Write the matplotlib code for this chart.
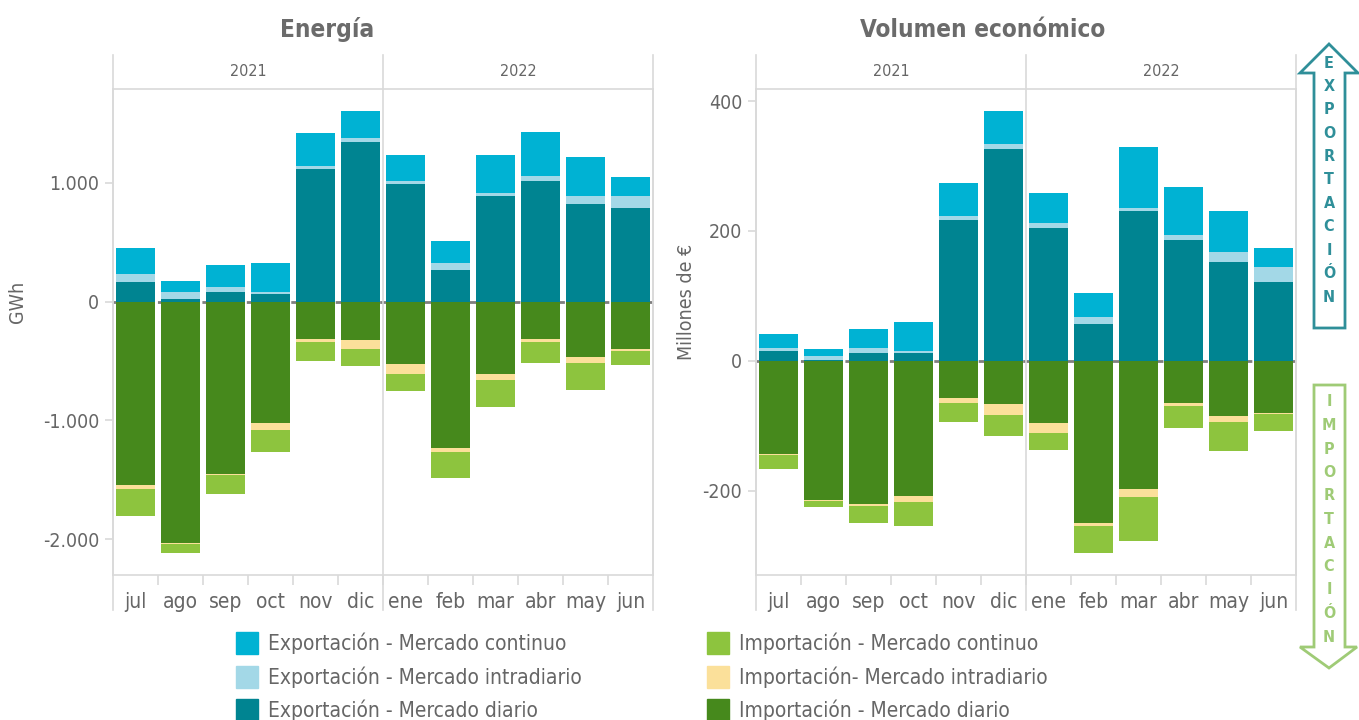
import numpy as np
import matplotlib.pyplot as plt
from matplotlib.lines import Line2D
from matplotlib.patches import Polygon, Rectangle

W, H = 1359, 720
plt.rcParams['font.family'] = ['DejaVu Sans']
plt.rcParams['font.stretch'] = 'condensed'

months = ['jul', 'ago', 'sep', 'oct', 'nov', 'dic', 'ene', 'feb', 'mar', 'abr', 'may', 'jun']
years = ['2021', '2022']

# Energía (GWh)
exp_diario_e = [166, 23, 82, 65, 1117, 1345, 990, 267, 890, 1015, 822, 788]
exp_intra_e = [67, 59, 42, 17, 26, 34, 25, 59, 25, 42, 68, 102]
exp_cont_e = [219, 92, 185, 244, 277, 227, 219, 185, 319, 370, 328, 159]
imp_diario_e = [-1544, -2031, -1448, -1021, -314, -322, -524, -1231, -608, -314, -465, -398]
imp_intra_e = [-33, -9, -11, -59, -25, -76, -84, -34, -51, -25, -51, -17]
imp_cont_e = [-227, -76, -160, -185, -160, -143, -143, -219, -227, -177, -227, -118]

# Volumen económico (millones de €)
exp_diario_v = [15, 1, 12, 12, 217, 326, 205, 57, 231, 186, 152, 121]
exp_intra_v = [4.6, 6, 7.7, 3, 6, 8, 7.7, 10.7, 4.6, 7.7, 15, 23]
exp_cont_v = [21.6, 11, 29, 45, 51, 51, 45, 37, 94, 74, 63, 29]
imp_diario_v = [-144, -215, -221, -208, -57, -67, -96, -250, -198, -65, -85, -81]
imp_intra_v = [-1.5, -0.5, -3, -9, -8, -17, -15, -4.6, -12, -4.6, -9, -0.5]
imp_cont_v = [-21.6, -9, -26, -37, -29, -32, -26, -41, -68, -34, -45, -26]

C_EXP_CONT, C_EXP_INTRA, C_EXP_DIA = '#00b2d3', '#a3d8e7', '#008491'
C_IMP_CONT, C_IMP_INTRA, C_IMP_DIA = '#8dc43e', '#fbe09a', '#46891c'
GRID = '#d9d9d9'
TXT = '#666666'


def px(x, y):
    return x / W, 1 - y / H


fig = plt.figure(figsize=(W / 100, H / 100), dpi=100)


def fig_line(x0, y0, x1, y1, color=GRID, lw=1.2):
    a, b = px(x0, y0)
    c, d = px(x1, y1)
    fig.add_artist(Line2D([a, c], [b, d], color=color, lw=lw))


def panel(left, right, title, title_x, ylabel, ylab_x, ylim, ticks, ticklabels,
          d, i, c, nd, ni, nc):
    top, bottom = 89, 575
    l, b = px(left, bottom)
    ax = fig.add_axes([l, b, (right - left) / W, (bottom - top) / H])
    x = np.arange(len(months))
    wd = 0.85
    d, i, c = np.array(d), np.array(i), np.array(c)
    nd, ni, nc = np.array(nd), np.array(ni), np.array(nc)
    ax.axhline(0, color='#7f7f7f', ls=(0, (2.5, 1.5)), lw=2, zorder=1)
    ax.bar(x, d, wd, color=C_EXP_DIA, zorder=2)
    ax.bar(x, i, wd, bottom=d, color=C_EXP_INTRA, zorder=2)
    ax.bar(x, c, wd, bottom=d + i, color=C_EXP_CONT, zorder=2)
    ax.bar(x, nd, wd, color=C_IMP_DIA, zorder=2)
    ax.bar(x, ni, wd, bottom=nd, color=C_IMP_INTRA, zorder=2)
    ax.bar(x, nc, wd, bottom=nd + ni, color=C_IMP_CONT, zorder=2)

    ax.set_xlim(-0.5, 11.5)
    ax.set_ylim(*ylim)
    ax.set_yticks(ticks)
    ax.set_yticklabels(ticklabels)
    ax.set_xticks(x)
    ax.set_xticklabels(months)
    ax.set_xticks(np.arange(0.5, 11, 1), minor=True)
    ax.tick_params(axis='x', which='major', length=0, pad=12, labelsize=15, labelcolor=TXT)
    ax.tick_params(axis='x', which='minor', length=7, color=GRID, width=1.2)
    ax.tick_params(axis='y', length=6, color=GRID, width=1.2, labelsize=14, labelcolor=TXT, pad=4)
    for s in ax.spines.values():
        s.set_color(GRID)
        s.set_linewidth(1.2)

    mid = left + (right - left) / 2
    fig_line(left, 55, left, 610)
    fig_line(mid, 55, mid, 610)
    fig_line(right, 55, right, 610)
    for k, yr in enumerate(years):
        xc = left + (right - left) * (0.25 + 0.5 * k)
        fig.text(*px(xc, 72), yr, ha='center', va='center', fontsize=11.5, color=TXT)
    fig.text(*px(title_x, 30), title, ha='center', va='center', fontsize=17.5,
             fontweight='bold', color='#6b6b6b')
    fig.text(*px(ylab_x, 302), ylabel, ha='center', va='center', rotation=90,
             fontsize=14, color=TXT)
    return ax


panel(113, 653, 'Energía', 327, 'GWh', 18, (-2301, 1790),
      [-2000, -1000, 0, 1000], ['-2.000', '-1.000', '0', '1.000'],
      exp_diario_e, exp_intra_e, exp_cont_e, imp_diario_e, imp_intra_e, imp_cont_e)
panel(756, 1296, 'Volumen económico', 983, 'Millones de €', 686, (-330, 418.6),
      [-200, 0, 200, 400], ['-200', '0', '200', '400'],
      exp_diario_v, exp_intra_v, exp_cont_v, imp_diario_v, imp_intra_v, imp_cont_v)

# legend
legend_items = [
    (236, 643, C_EXP_CONT, 'Exportación - Mercado continuo'),
    (236, 677, C_EXP_INTRA, 'Exportación - Mercado intradiario'),
    (236, 710, C_EXP_DIA, 'Exportación - Mercado diario'),
    (707, 643, C_IMP_CONT, 'Importación - Mercado continuo'),
    (707, 677, C_IMP_INTRA, 'Importación- Mercado intradiario'),
    (707, 710, C_IMP_DIA, 'Importación - Mercado diario'),
]
for lx, ly, col, lab in legend_items:
    a, b = px(lx, ly + 11)
    fig.add_artist(Rectangle((a, b), 22 / W, 22 / H, color=col, transform=fig.transFigure))
    fig.text(*px(lx + 32, ly), lab, ha='left', va='center', fontsize=15, color=TXT)


# side arrows
def arrow(pts, color, word, y0, y1):
    poly = [px(x, y) for x, y in pts]
    fig.add_artist(Polygon(poly, closed=True, facecolor='white', edgecolor=color,
                           lw=2, transform=fig.transFigure))
    ys = np.linspace(y0, y1, len(word))
    for ch, yy in zip(word, ys):
        fig.text(*px(1329, yy), ch, ha='center', va='center', fontsize=11.5,
                 fontweight='bold', color=color)


arrow([(1329, 44), (1358, 73), (1345, 73), (1345, 328), (1314, 328), (1314, 73), (1300, 73)],
      '#2f8f99', 'EXPORTACIÓN', 63, 297)
arrow([(1314, 385), (1345, 385), (1345, 647), (1357, 647), (1329, 668), (1300, 647), (1314, 647)],
      '#9fcb76', 'IMPORTACIÓN', 402, 637)

fig.savefig('out.png', dpi=100)
